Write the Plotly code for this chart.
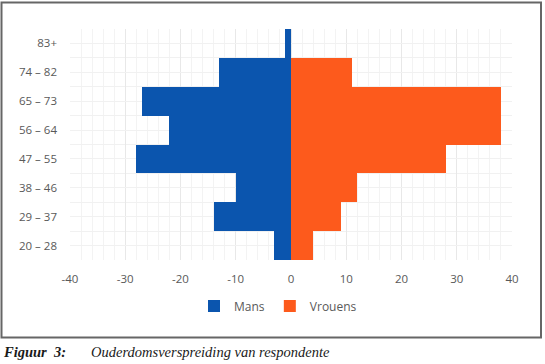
import plotly.graph_objects as go

age_groups = ["20 – 28", "29 – 37", "38 – 46", "47 – 55", "56 – 64", "65 – 73", "74 – 82", "83+"]
mans = [-3, -14, -10, -28, -22, -27, -13, -1]
vrouens = [4, 9, 12, 28, 38, 38, 11, 0]
x_ticks = [-40, -30, -20, -10, 0, 10, 20, 30, 40]

W, H = 545, 364
L, R, T, B = 70, 33, 29, 104
PW, PH = W - L - R, H - T - B

def px(x):
    return (x - L) / PW

def py(y):
    return (H - B - y) / PH

ypos = list(range(len(age_groups)))

fig = go.Figure()
fig.add_trace(go.Bar(y=ypos, x=mans, orientation="h", name="Mans",
                     marker=dict(color="#0B55AE", line=dict(width=0)), width=1.0))
fig.add_trace(go.Bar(y=ypos, x=vrouens, orientation="h", name="Vrouens",
                     marker=dict(color="#FD5A1C", line=dict(width=0)), width=1.0))

fig.update_layout(
    width=W, height=H,
    margin=dict(l=L, r=R, t=T, b=B),
    barmode="overlay", bargap=0,
    paper_bgcolor="white", plot_bgcolor="white",
    font=dict(family="Open Sans, sans-serif", size=11.5, color="#595959"),
    showlegend=True,
    legend=dict(orientation="h", x=px(278), xanchor="center", y=py(306), yanchor="middle",
                font=dict(size=12, color="#595959"), itemwidth=30, traceorder="normal"),
    xaxis=dict(range=[-40, 40], tickvals=x_ticks, ticktext=[str(v) for v in x_ticks],
               showgrid=True, gridcolor="#e8e8e8", gridwidth=1,
               minor=dict(dtick=2, showgrid=True, gridcolor="#f3f3f3", gridwidth=1),
               zeroline=False, showline=False, ticks="", ticklabelstandoff=10,
               fixedrange=True),
    yaxis=dict(range=[-0.5, 7.5], tickvals=ypos, ticktext=age_groups,
               showgrid=True, gridcolor="#f1f1f1", gridwidth=1,
               minor=dict(dtick=0.5, tick0=-0.5, showgrid=True, gridcolor="#f1f1f1", gridwidth=1),
               zeroline=False, showline=False, ticks="", ticklabelstandoff=12,
               fixedrange=True),
    shapes=[dict(type="rect", xref="paper", yref="paper",
                 x0=px(1.5), x1=px(541), y0=py(2.5), y1=py(337.5),
                 line=dict(color="#666666", width=2), fillcolor="rgba(0,0,0,0)", layer="above")],
    annotations=[
        dict(text="<b><i>Figuur  3:</i></b>", xref="paper", yref="paper",
             x=px(1), y=py(352), xanchor="left", yanchor="middle", showarrow=False,
             font=dict(family="Liberation Serif, serif", size=14.5, color="#1a1a1a")),
        dict(text="<i>Ouderdomsverspreiding van respondente</i>", xref="paper", yref="paper",
             x=px(89), y=py(352), xanchor="left", yanchor="middle", showarrow=False,
             font=dict(family="Liberation Serif, serif", size=14.5, color="#1a1a1a")),
    ],
)

fig.write_html("out.html")
